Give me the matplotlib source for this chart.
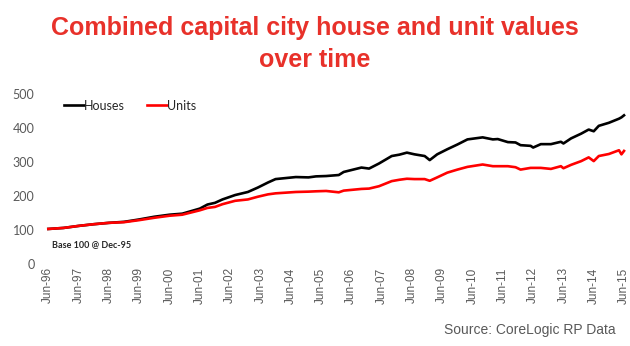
import matplotlib
matplotlib.use("Agg")
import matplotlib.pyplot as plt
import matplotlib.dates as mdates
import pandas as pd

# data (index, base 100 @ Dec-95)
months = ["1996-06", "1996-12", "1997-06", "1997-12", "1998-06", "1998-12",
          "1999-06", "1999-12", "2000-06", "2000-11", "2001-06", "2001-09",
          "2001-12", "2002-03", "2002-08", "2003-01", "2003-05", "2003-09",
          "2003-12", "2004-04", "2004-08", "2005-01", "2005-04", "2005-08",
          "2006-01", "2006-03", "2006-10", "2007-01", "2007-05", "2007-10",
          "2008-01", "2008-04", "2008-07", "2008-11", "2009-01", "2009-04",
          "2009-08", "2009-12", "2010-04", "2010-10", "2011-02", "2011-04",
          "2011-08", "2011-11", "2012-01", "2012-05", "2012-06", "2012-09",
          "2013-01", "2013-05", "2013-06", "2013-09", "2014-01", "2014-04",
          "2014-06", "2014-08", "2014-12", "2015-04", "2015-05", "2015-06"]
houses = [103, 106, 112, 117, 121, 124,
          131, 139, 145, 148, 163, 175,
          180, 190, 203, 212, 225, 240,
          250, 253, 256, 255, 258, 259,
          262, 271, 284, 281, 296, 318,
          322, 328, 323, 318, 306, 323,
          338, 352, 367, 373, 367, 368,
          359, 358, 350, 348, 343, 353,
          353, 360, 355, 370, 384, 396,
          391, 407, 416, 428, 432, 438]
units = [103, 106, 112, 117, 121, 123,
         129, 136, 142, 145, 158, 165,
         168, 176, 186, 190, 198, 205,
         208, 210, 212, 213, 214, 215,
         211, 216, 221, 222, 229, 244,
         248, 251, 250, 250, 245, 255,
         269, 278, 286, 293, 288, 288,
         288, 285, 278, 283, 283, 283,
         280, 288, 282, 292, 303, 314,
         303, 318, 324, 335, 323, 333]
tick_years = list(range(1996, 2016))

dates = pd.to_datetime(months)
ticks = pd.to_datetime([f"{y}-06-01" for y in tick_years])

grey = "#595959"
red = "#ff0000"

fig = plt.figure(figsize=(6.3, 3.46), dpi=100)
ax = fig.add_axes([0.0646, 0.2373, 0.9317, 0.4902])

ax.plot(dates, houses, color="black", lw=1.9, label="Houses")
ax.plot(dates, units, color=red, lw=1.9, label="Units")

ax.set_ylim(0, 500)
ax.set_yticks(range(0, 501, 100))
ax.set_xlim(pd.Timestamp("1996-03-01"), pd.Timestamp("2015-07-15"))
ax.set_xticks(ticks)
ax.xaxis.set_major_formatter(mdates.DateFormatter("%b-%y"))
ax.tick_params(axis="x", rotation=90, labelsize=8.5, colors=grey, length=0, pad=2.5)
ax.tick_params(axis="y", labelsize=9, colors=grey, length=0, pad=4.5)
for lab in ax.get_xticklabels():
    lab.set_family("Liberation Sans")
for lab in ax.get_yticklabels():
    lab.set_family("Lato")
for s in ax.spines.values():
    s.set_visible(False)

leg = ax.legend(loc="upper left", bbox_to_anchor=(0.02, 1.035), ncol=2, frameon=False,
                handlelength=1.6, handletextpad=0.0, columnspacing=1.8,
                prop={"family": "Lato", "size": 9})
for t in leg.get_texts():
    t.set_color("#262626")

ax.text(0.02, 0.1, "Base 100 @ Dec-95", transform=ax.transAxes,
        fontsize=6.5, family="Lato", fontweight="bold", color="#262626")

fig.text(0.5, 0.873, "Combined capital city house and unit values\nover time",
         ha="center", va="center", color="#e8312a", fontsize=18,
         fontweight="bold", family="Liberation Sans", linespacing=1.42)
fig.text(0.977, 0.045, "Source: CoreLogic RP Data", ha="right", va="center",
         color=grey, fontsize=10, family="Liberation Sans")

fig.savefig("out.png", dpi=100)
